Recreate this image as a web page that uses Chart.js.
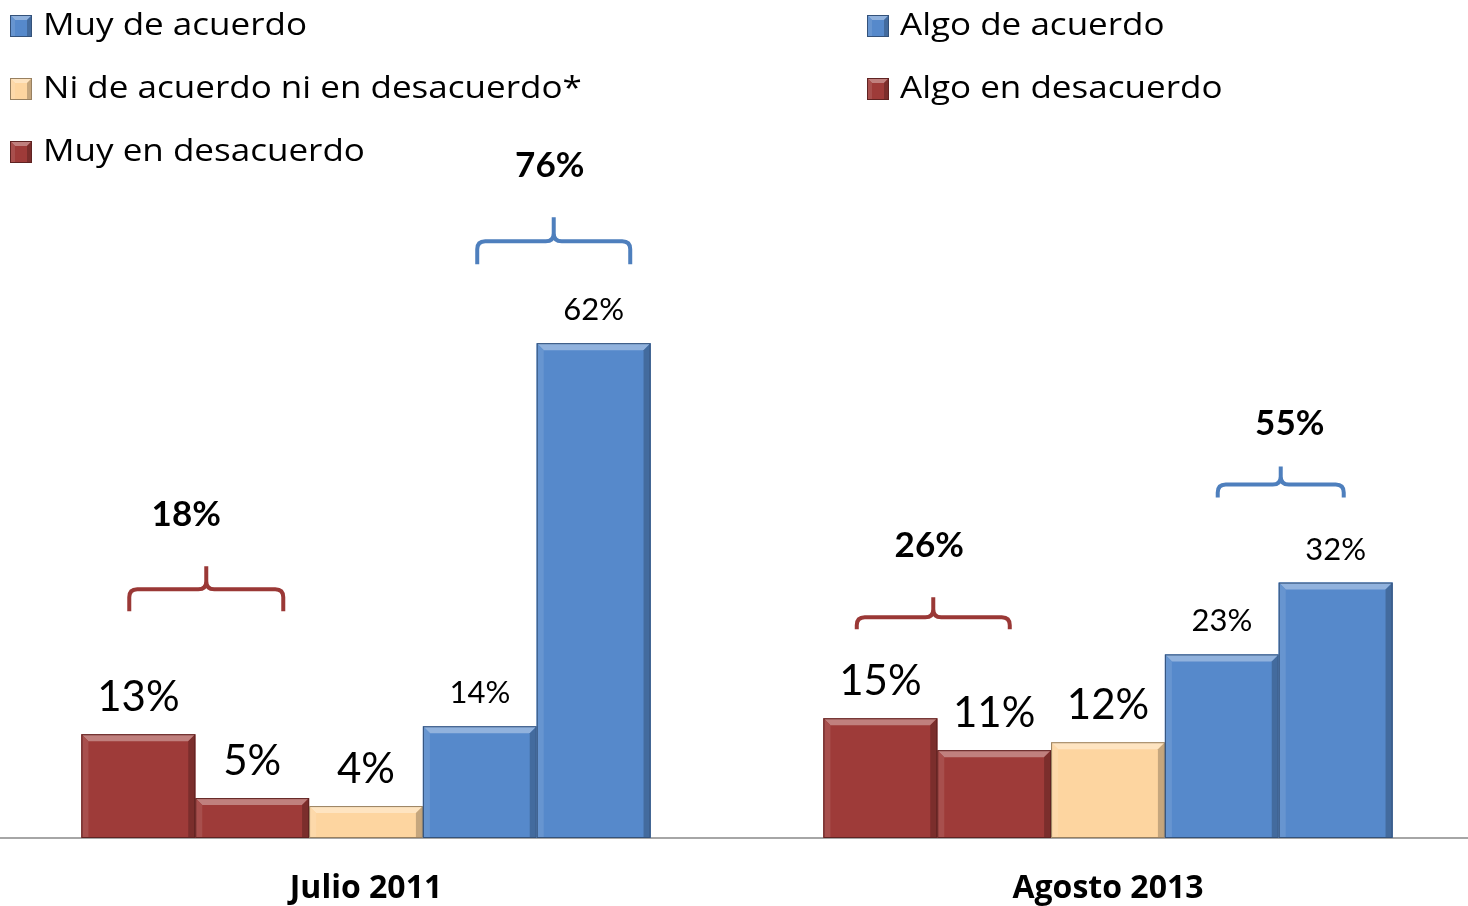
<!DOCTYPE html>
<html>
<head>
<meta charset="utf-8">
<script src="https://cdn.jsdelivr.net/npm/chart.js@4"></script>
<style>
  html, body { margin: 0; padding: 0; background: #fff; overflow: hidden; }
  body { width: 1468px; height: 906px; position: relative; }
  /* the plot runs a few pixels past both window edges, as in the original slide */
  #wrap { position: absolute; left: -5px; top: 0; width: 1484px; height: 906px; }
</style>
</head>
<body>
<div id="wrap"><canvas id="chart"></canvas></div>
<script>
// Data
const periods = ['Julio 2011', 'Agosto 2013'];
const seriesNames = ['Muy en desacuerdo', 'Algo en desacuerdo', 'Ni de acuerdo ni en desacuerdo*', 'Algo de acuerdo', 'Muy de acuerdo'];
const muyDesacuerdo = [13, 15];
const algoDesacuerdo = [5, 11];
const niNi = [4, 12];
const algoAcuerdo = [14, 23];
const muyAcuerdo = [62, 32];
// bracket totals: desacuerdo (first two series) and acuerdo (last two)
const totalDesacuerdo = [18, 26];
const totalAcuerdo = [76, 55];

const RED = '#9e3b39', TAN = '#fdd5a0', BLUE = '#5689cb';
const FONT = 'Lato, "Liberation Sans", sans-serif';
const TEXT_FONT = '"Open Sans", Lato, sans-serif';
const SHIFT = 5; // canvas starts 5px left of the window

// custom legend in two columns, highest agreement first
const legendItems = [
  { text: seriesNames[4], color: BLUE, col: 0, row: 0 },
  { text: seriesNames[3], color: BLUE, col: 1, row: 0 },
  { text: seriesNames[2], color: TAN, col: 0, row: 1 },
  { text: seriesNames[1], color: RED, col: 1, row: 1 },
  { text: seriesNames[0], color: RED, col: 0, row: 2 }
];

function shade(hex, amt) {
  const n = parseInt(hex.slice(1), 16);
  let r = (n >> 16) & 255, g = (n >> 8) & 255, b = n & 255;
  const f = v => Math.max(0, Math.min(255, Math.round(amt > 0 ? v + (255 - v) * amt : v * (1 + amt))));
  return `rgb(${f(r)},${f(g)},${f(b)})`;
}

function bevelBox(ctx, x, y, w, h, color, b) {
  b = Math.min(b || 7, h / 2);
  ctx.save();
  ctx.fillStyle = color;
  ctx.fillRect(x, y, w, h);
  // top highlight
  ctx.fillStyle = shade(color, 0.35);
  ctx.beginPath();
  ctx.moveTo(x, y); ctx.lineTo(x + w, y); ctx.lineTo(x + w - b, y + b); ctx.lineTo(x + b, y + b); ctx.closePath();
  ctx.fill();
  // left
  ctx.fillStyle = shade(color, 0.1);
  ctx.beginPath();
  ctx.moveTo(x, y); ctx.lineTo(x + b, y + b); ctx.lineTo(x + b, y + h); ctx.lineTo(x, y + h); ctx.closePath();
  ctx.fill();
  // right
  ctx.fillStyle = shade(color, -0.22);
  ctx.beginPath();
  ctx.moveTo(x + w, y); ctx.lineTo(x + w - b, y + b); ctx.lineTo(x + w - b, y + h); ctx.lineTo(x + w, y + h); ctx.closePath();
  ctx.fill();
  ctx.strokeStyle = shade(color, -0.4);
  ctx.lineWidth = 1;
  ctx.strokeRect(x + 0.5, y + 0.5, w - 1, h - 1);
  ctx.restore();
}

// bracket placement tweaks: [julio, agosto]
const bracketStyle = [
  { a: 0, b: 1, totals: totalDesacuerdo, color: '#9a3836',
    lift: [145, 101], dx: [11, -4], width: [154, 153], labelDx: [-20, -4], labelUp: [75, 72], leg: [22, 12], tip: [23, 20] },
  { a: 3, b: 4, totals: totalAcuerdo, color: '#4e7fbd',
    lift: [102, 98], dx: [17, 2], width: [153, 126], labelDx: [-4, 9], labelUp: [75, 61], leg: [23, 13], tip: [24, 18] }
];

const decorPlugin = {
  id: 'decor',
  afterDatasetsDraw(chart) {
    const ctx = chart.ctx;
    // bevelled bars on top of the plain fill
    chart.data.datasets.forEach((ds, di) => {
      chart.getDatasetMeta(di).data.forEach(bar => {
        const w = bar.width, x = bar.x - w / 2;
        bevelBox(ctx, x, bar.y, w, bar.base - bar.y, ds.backgroundColor);
      });
    });
    // value labels
    ctx.save();
    ctx.fillStyle = '#000';
    ctx.textAlign = 'center';
    ctx.textBaseline = 'alphabetic';
    chart.data.datasets.forEach((ds, di) => {
      ctx.font = (di >= 3 ? '31px ' : '42px ') + FONT;
      chart.getDatasetMeta(di).data.forEach((bar, i) => {
        ctx.fillText(ds.data[i] + '%', bar.x, bar.y - 23);
      });
    });
    ctx.restore();
    // brackets with totals
    bracketStyle.forEach(br => {
      periods.forEach((p, i) => {
        const ba = chart.getDatasetMeta(br.a).data[i];
        const bb = chart.getDatasetMeta(br.b).data[i];
        const top = Math.min(ba.y, bb.y);
        const yl = top - br.lift[i];
        const xm = (ba.x + bb.x) / 2 + br.dx[i];
        const x1 = xm - br.width[i] / 2, x2 = xm + br.width[i] / 2;
        const leg = br.leg[i], tip = br.tip[i], r = 8;
        ctx.save();
        ctx.strokeStyle = br.color;
        ctx.lineWidth = 4;
        ctx.beginPath();
        ctx.moveTo(x1, yl + leg);
        ctx.lineTo(x1, yl + r);
        ctx.quadraticCurveTo(x1, yl, x1 + r, yl);
        ctx.lineTo(xm - r, yl);
        ctx.quadraticCurveTo(xm, yl, xm, yl - r);
        ctx.lineTo(xm, yl - tip);
        ctx.moveTo(xm, yl - r);
        ctx.quadraticCurveTo(xm, yl, xm + r, yl);
        ctx.lineTo(x2 - r, yl);
        ctx.quadraticCurveTo(x2, yl, x2, yl + r);
        ctx.lineTo(x2, yl + leg);
        ctx.stroke();
        ctx.fillStyle = '#000';
        ctx.font = 'bold 35px ' + FONT;
        ctx.textAlign = 'center';
        ctx.textBaseline = 'middle';
        ctx.fillText(br.totals[i] + '%', xm + br.labelDx[i], yl - br.labelUp[i]);
        ctx.restore();
      });
    });
    // legend (text slightly widened like the original)
    ctx.save();
    ctx.font = '31px ' + TEXT_FONT;
    ctx.textBaseline = 'middle';
    legendItems.forEach(it => {
      const mx = (it.col === 0 ? 10 : 867) + SHIFT;
      const cy = 26 + it.row * 63;
      bevelBox(ctx, mx, cy - 11, 22, 22, it.color, 5);
      ctx.save();
      ctx.fillStyle = '#000';
      ctx.translate(mx + 33, cy);
      ctx.scale(1.13, 1);
      ctx.fillText(it.text, 0, 0);
      ctx.restore();
    });
    ctx.restore();
  }
};

new Chart(document.getElementById('chart'), {
  type: 'bar',
  data: {
    labels: periods,
    datasets: [
      { label: seriesNames[0], data: muyDesacuerdo, backgroundColor: RED },
      { label: seriesNames[1], data: algoDesacuerdo, backgroundColor: RED },
      { label: seriesNames[2], data: niNi, backgroundColor: TAN },
      { label: seriesNames[3], data: algoAcuerdo, backgroundColor: BLUE },
      { label: seriesNames[4], data: muyAcuerdo, backgroundColor: BLUE }
    ]
  },
  options: {
    responsive: true,
    maintainAspectRatio: false,
    animation: false,
    layout: { padding: 0 },
    datasets: { bar: { categoryPercentage: 0.767, barPercentage: 1.0 } },
    plugins: { legend: { display: false }, tooltip: { enabled: false } },
    scales: {
      x: {
        grid: { display: false, drawTicks: false },
        border: { display: true, color: '#a6a6a6', width: 2 },
        ticks: { color: '#000', font: { family: TEXT_FONT, size: 32, weight: 'bold' }, padding: 32 },
        afterFit(axis) { axis.height = 68; }
      },
      y: { display: false, min: 0, max: 105 }
    }
  },
  plugins: [decorPlugin]
});
</script>
</body>
</html>
